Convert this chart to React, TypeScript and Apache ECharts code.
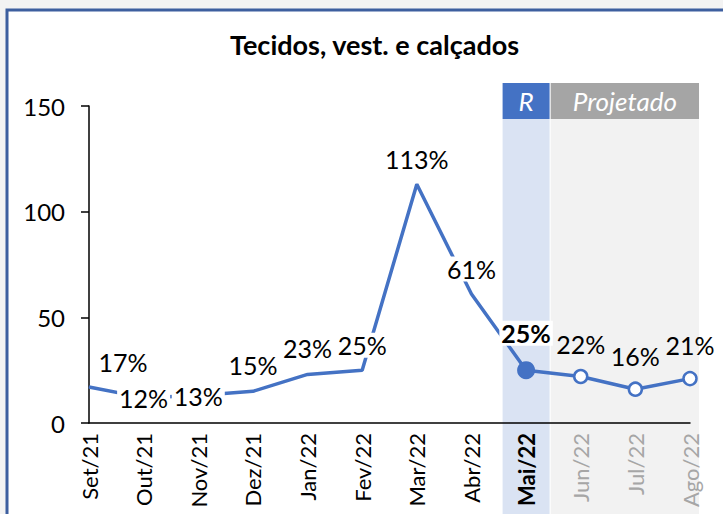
import React, { useEffect, useRef } from "react";
import * as echarts from "echarts";

const title = "Tecidos, vest. e calçados";
const categories = ["Set/21", "Out/21", "Nov/21", "Dez/21", "Jan/22", "Fev/22", "Mar/22", "Abr/22", "Mai/22", "Jun/22", "Jul/22", "Ago/22"];
const values = [17, 12, 13, 15, 23, 25, 113, 61, 25, 22, 16, 21];
const yTicks = { min: 0, max: 150, interval: 50 };
const realIndex = 8; // "R"
const projectedFrom = 9; // "Projetado"
const headerReal = "R";
const headerProjected = "Projetado";

// layout only: label offsets relative to each point
const labelOffsets: [number, number][] = [
  [34, -25], [0, 0], [0, 0], [0, -26], [0, -26], [0, -25],
  [0, -25], [0, -25], [0, -37], [0, -33], [0, -33], [0, -34],
];

const FONT = "Lato";
const BLUE = "#4472C4";

export default function App() {
  const ref = useRef<HTMLDivElement>(null);
  useEffect(() => {
    if (!ref.current) return;
    const chart = echarts.init(ref.current, null, { renderer: "svg" });
    const data = values.map((v, i) => {
      const isReal = i === realIndex;
      const isProj = i >= projectedFrom;
      return {
        value: v,
        symbol: "circle",
        symbolSize: isReal ? 18 : isProj ? 13 : 1,
        itemStyle: isProj
          ? { color: "#fff", borderColor: BLUE, borderWidth: 2.5 }
          : { color: BLUE, borderWidth: 0 },
        label: {
          show: true,
          position: "inside",
          offset: labelOffsets[i],
          formatter: (p: any) => `${p.value}%`,
          fontFamily: FONT,
          fontSize: 25,
          color: "#000",
          fontWeight: isReal ? "bold" : "normal",
          backgroundColor: isProj ? "transparent" : "#fff",
          padding: [0, 2],
        },
      };
    });
    chart.setOption({
      animation: false,
      backgroundColor: "#F3F3F3",
      title: {
        text: title,
        left: 225,
        top: 26,
        textStyle: { fontFamily: FONT, fontSize: 27, fontWeight: "bold", color: "#000" },
      },
      grid: { left: 89, right: 33, top: 106, bottom: 91, containLabel: false },
      xAxis: {
        type: "category",
        data: categories,
        boundaryGap: false,
        axisLine: { lineStyle: { color: "#000", width: 1.5 } },
        axisTick: { show: false },
        axisLabel: {
          rotate: 90,
          margin: 10,
          interval: 0,
          fontFamily: FONT,
          fontSize: 22,
          color: (_v: any, idx: number) => (idx >= projectedFrom ? "#A6A6A6" : "#000"),
          formatter: (v: string, idx: number) => (idx === realIndex ? `{b|${v}}` : v),
          rich: { b: { fontWeight: "bold", fontFamily: FONT, fontSize: 22, color: "#000" } },
        },
        splitLine: { show: false },
      },
      yAxis: {
        type: "value",
        min: yTicks.min,
        max: yTicks.max,
        interval: yTicks.interval,
        axisLine: { show: true, lineStyle: { color: "#000", width: 1.5 } },
        axisTick: { show: true, inside: false, length: 8, lineStyle: { color: "#000", width: 1.5 } },
        axisLabel: { margin: 24, fontFamily: FONT, fontSize: 24, color: "#000" },
        splitLine: { show: false },
      },
      series: [
        {
          type: "line",
          data,
          lineStyle: { color: BLUE, width: 3.5 },
          itemStyle: { color: BLUE },
          z: 3,
        },
      ],
    });

    const px = (i: number) => chart.convertToPixel({ xAxisIndex: 0 }, i) as number;
    const yTop = chart.convertToPixel({ yAxisIndex: 0 }, yTicks.max) as number;
    const step = px(realIndex + 1) - px(realIndex);
    const mx = px(realIndex);
    const lastX = px(categories.length - 1);
    const hTop = yTop - 23;
    const hH = 36;
    const bandTop = hTop + hH;
    const blueL = mx - step * 0.43;
    const blueR = mx + step * 0.43;
    const greyL = mx + step * 0.45;
    const greyR = lastX + step * 0.165;

    chart.setOption({
      graphic: [
        {
          type: "rect",
          z: -20,
          shape: { x: 7, y: 10, width: 760, height: 560 },
          style: { fill: "#fff", stroke: "#3D5F9F", lineWidth: 3 },
          silent: true,
        },
        {
          type: "rect",
          z: -10,
          shape: { x: blueL, y: bandTop, width: blueR - blueL, height: 520 - bandTop },
          style: { fill: "#DAE3F3" },
          silent: true,
        },
        {
          type: "rect",
          z: -10,
          shape: { x: greyL, y: bandTop, width: greyR - greyL, height: 520 - bandTop },
          style: { fill: "#F2F2F2" },
          silent: true,
        },
        {
          type: "rect",
          z: -10,
          shape: { x: blueL, y: hTop, width: blueR - blueL, height: hH },
          style: { fill: BLUE },
          silent: true,
        },
        {
          type: "rect",
          z: -10,
          shape: { x: greyL, y: hTop, width: greyR - greyL, height: hH },
          style: { fill: "#A5A5A5" },
          silent: true,
        },
        {
          type: "text",
          z: -5,
          x: (blueL + blueR) / 2,
          y: hTop + hH / 2,
          style: {
            text: headerReal,
            fill: "#fff",
            font: `italic 26px ${FONT}`,
            align: "center",
            verticalAlign: "middle",
          },
          silent: true,
        },
        {
          type: "text",
          z: -5,
          x: (greyL + greyR) / 2,
          y: hTop + hH / 2,
          style: {
            text: headerProjected,
            fill: "#fff",
            font: `italic 26px ${FONT}`,
            align: "center",
            verticalAlign: "middle",
          },
          silent: true,
        },
      ],
    });
    return () => chart.dispose();
  }, []);
  return (
    <div
      ref={ref}
      style={{ position: "fixed", left: 0, top: 0, width: 723, height: 514 }}
    />
  );
}
